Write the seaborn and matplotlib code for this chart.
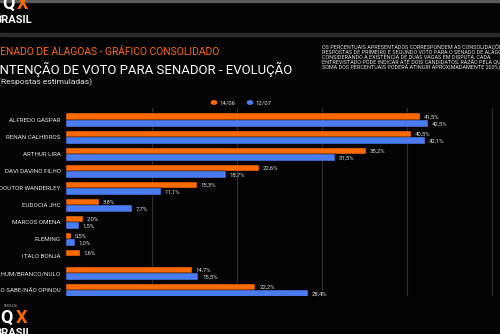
import matplotlib
matplotlib.use("Agg")
import matplotlib.pyplot as plt
import seaborn as sns
import pandas as pd
import numpy as np
from matplotlib.patches import Rectangle, Circle

categories = ["ALFREDO GASPAR", "RENAN CALHEIROS", "ARTHUR LIRA", "DAVI DAVINO FILHO",
              "DOUTOR WANDERLEY", "EUDOCIA JHC", "MARCOS OMENA", "FLEMING",
              "ITALO BONJA", "NENHUM/BRANCO/NULO", "NÃO SABE/NÃO OPINOU"]
series_names = ["14/06", "12/07"]
values_1406 = [41.5, 40.5, 35.2, 22.6, 15.3, 3.8, 2.0, 0.5, 1.6, 14.7, 22.2]
values_1207 = [42.5, 42.1, 31.5, 18.7, 11.1, 7.7, 1.5, 1.0, np.nan, 15.5, 28.4]
grid_ticks = [10, 20, 30, 40, 50]

ORANGE = "#FF6A00"
BLUE = "#4A7BF0"
BG = "#030303"

sns.set_theme(style="dark")
plt.rcParams['font.family'] = ['Roboto', 'DejaVu Sans']

W, H = 500, 334
fig = plt.figure(figsize=(W / 100, H / 100), dpi=100, facecolor=BG)

def fx(x):
    return x / W

def fy(y):
    return 1 - y / H

# axes placement in pixels
ax_left, ax_right, ax_top, ax_bot = 66.3, 500, 108, 296
ax = fig.add_axes([fx(ax_left), fy(ax_bot), (ax_right - ax_left) / W, (ax_bot - ax_top) / H])
ax.set_facecolor(BG)

df = pd.DataFrame({
    "cat": categories * 2,
    "serie": [series_names[0]] * len(categories) + [series_names[1]] * len(categories),
    "val": values_1406 + values_1207,
})

sns.barplot(data=df, y="cat", x="val", hue="serie", order=categories,
            hue_order=series_names, palette=[ORANGE, BLUE], width=0.8,
            orient="h", ax=ax, legend=False, saturation=1, edgecolor=BG, linewidth=0.3)

px_per_pct = 8.52
ax.set_xlim(0, (ax_right - ax_left) / px_per_pct)
ax.set_ylim(10 + (ax_bot - 290.3) / 17, 0 - (120.3 - ax_top) / 17)

for x in grid_ticks:
    ax.axvline(x, color="#2e2e2e", lw=0.8, zorder=0)

for cont in ax.containers:
    for bar in cont:
        w = bar.get_width()
        if np.isnan(w):
            continue
        ax.text(w + 0.45, bar.get_y() + bar.get_height() / 2,
                f"{w:.1f}%".replace(".", ","), va="center", ha="left",
                fontsize=4.3, color="#dddddd")

ax.set_xticks([])
ax.set_yticks(range(len(categories)))
ax.set_yticklabels(categories, fontsize=4.5, color="#e6e6e6")
ax.tick_params(axis="y", length=0, pad=4)
ax.set_xlabel("")
ax.set_ylabel("")
for s in ax.spines.values():
    s.set_visible(False)

# decorative bands
fig.patches.append(Rectangle((0, fy(2)), 1, 2 / H, transform=fig.transFigure, color="#5a5a5a", zorder=0))
fig.patches.append(Rectangle((0, fy(36)), 1, 3.5 / H, transform=fig.transFigure, color="#2a2a2a", zorder=0))

renderer = fig.canvas.get_renderer()

def fit_text(txt, x, y, width_px, color, weight="normal", fs0=8, va="center"):
    t = fig.text(fx(x), fy(y), txt, color=color, fontsize=fs0, fontweight=weight,
                 ha="left", va=va)
    w = t.get_window_extent(renderer).width
    t.set_fontsize(fs0 * width_px / w)
    return t

fit_text("SENADO DE ALAGOAS - GRÁFICO CONSOLIDADO", -6.5, 52, 225.5, ORANGE, fs0=7)
fit_text("INTENÇÃO DE VOTO PARA SENADOR - EVOLUÇÃO", -3.5, 69.5, 296.5, "white", fs0=9)
fit_text("(Respostas estimuladas)", -1.5, 82, 95, "#e6e6e6", fs0=6)

note_lines = [
    "OS PERCENTUAIS APRESENTADOS CORRESPONDEM AS CONSOLIDAÇÕES DAS",
    "RESPOSTAS DE PRIMEIRO E SEGUNDO VOTO PARA O SENADO DE ALAGOAS,",
    "CONSIDERANDO A EXISTÊNCIA DE DUAS VAGAS EM DISPUTA, CADA",
    "ENTREVISTADO PÔDE INDICAR ATÉ DOIS CANDIDATOS, RAZÃO PELA QUAL A",
    "SOMA DOS PERCENTUAIS PODERÁ ATINGIR APROXIMADAMENTE 200%)",
]
t3 = fig.text(fx(322), fy(56.7), note_lines[2], fontsize=4, color="#e6e6e6", va="center")
w3 = t3.get_window_extent(renderer).width
fs_note = 4 * 166 / w3
t3.set_fontsize(fs_note)
for i, line in enumerate(note_lines):
    if i == 2:
        continue
    fig.text(fx(322), fy(46.7 + 5 * i), line, fontsize=fs_note, color="#e6e6e6", va="center")

# legend
for cx, col, lab in [(214, ORANGE, series_names[0]), (250, BLUE, series_names[1])]:
    fig.patches.append(Circle((fx(cx), fy(102.5)), 2.6 / W, transform=fig.transFigure,
                              color=col, zorder=3))
    fig.text(fx(cx + 5), fy(102.5), lab, fontsize=4.3, color="#dddddd", va="center")

# logos
fig.text(fx(-6), fy(20), "BRASIL", fontsize=8, fontweight="bold", color="white", va="center")
fig.text(fx(2), fy(4), "Q", fontsize=13, fontweight="bold", color="white", va="center")
fig.text(fx(17), fy(4), "X", fontsize=13, fontweight="bold", color=ORANGE, va="center")

fig.text(fx(4), fy(305.5), "PESQUISA", fontsize=2.2, color="#bbbbbb", va="center")
fig.text(fx(0), fy(318), "Q", fontsize=13, fontweight="bold", color="white", va="center")
fig.text(fx(16), fy(318), "X", fontsize=13, fontweight="bold", color=ORANGE, va="center")
fig.text(fx(-6), fy(333), "BRASIL", fontsize=8, fontweight="bold", color="white", va="center")

fig.savefig("out.png", dpi=100, facecolor=BG)
